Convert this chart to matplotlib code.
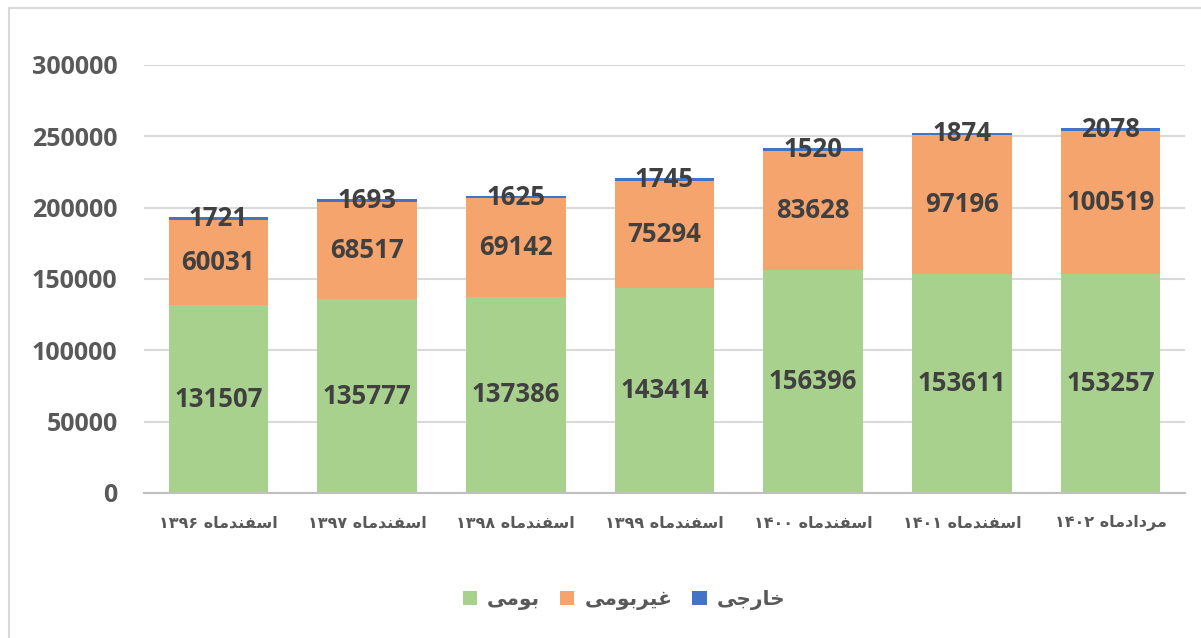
import matplotlib
matplotlib.use("Agg")
import matplotlib.pyplot as plt
from matplotlib.patches import Patch
from matplotlib.lines import Line2D
import numpy as np

# ---------------- data ----------------
categories = ['اسفندماه ۱۳۹۶', 'اسفندماه ۱۳۹۷', 'اسفندماه ۱۳۹۸', 'اسفندماه ۱۳۹۹',
              'اسفندماه ۱۴۰۰', 'اسفندماه ۱۴۰۱', 'مردادماه ۱۴۰۲']
series_names = ['بومی', 'غیربومی', 'خارجی']
native = [131507, 135777, 137386, 143414, 156396, 153611, 153257]
non_native = [60031, 68517, 69142, 75294, 83628, 97196, 100519]
foreign = [1721, 1693, 1625, 1745, 1520, 1874, 2078]
y_ticks = [0, 50000, 100000, 150000, 200000, 250000, 300000]

colors = ['#A9D18E', '#F4A46C', '#4472C4']

# ---------------- simple Arabic-script shaping for display ----------------
FORMS = {
    '\u0627': ('\uFE8D', '\uFE8E', None, None),
    '\u0628': ('\uFE8F', '\uFE90', '\uFE91', '\uFE92'),
    '\u062C': ('\uFE9D', '\uFE9E', '\uFE9F', '\uFEA0'),
    '\u062E': ('\uFEA5', '\uFEA6', '\uFEA7', '\uFEA8'),
    '\u062F': ('\uFEA9', '\uFEAA', None, None),
    '\u0631': ('\uFEAD', '\uFEAE', None, None),
    '\u0633': ('\uFEB1', '\uFEB2', '\uFEB3', '\uFEB4'),
    '\u063A': ('\uFECD', '\uFECE', '\uFECF', '\uFED0'),
    '\u0641': ('\uFED1', '\uFED2', '\uFED3', '\uFED4'),
    '\u0645': ('\uFEE1', '\uFEE2', '\uFEE3', '\uFEE4'),
    '\u0646': ('\uFEE5', '\uFEE6', '\uFEE7', '\uFEE8'),
    '\u0647': ('\uFEE9', '\uFEEA', '\uFEEB', '\uFEEC'),
    '\u0648': ('\uFEED', '\uFEEE', None, None),
    '\u06CC': ('\uFBFC', '\uFBFD', '\uFBFE', '\uFBFF'),
    '\u064A': ('\uFBFC', '\uFBFD', '\uFBFE', '\uFBFF'),
}


def shape_word(w):
    out = []
    for i, c in enumerate(w):
        if c not in FORMS:
            out.append(c)
            continue
        prev_j = i > 0 and w[i - 1] in FORMS and FORMS[w[i - 1]][2] is not None
        next_j = FORMS[c][2] is not None and i + 1 < len(w) and w[i + 1] in FORMS
        iso, fin, ini, med = FORMS[c]
        if prev_j and next_j:
            out.append(med)
        elif prev_j:
            out.append(fin)
        elif next_j:
            out.append(ini)
        else:
            out.append(iso)
    return ''.join(out)


def rtl(s):
    tokens = s.split(' ')
    vis = []
    for t in tokens:
        if any(ch in FORMS for ch in t):
            vis.append(shape_word(t)[::-1])
        else:
            vis.append(t)
    return ' '.join(vis[::-1])


# ---------------- figure ----------------
W, H = 1201, 638
fig = plt.figure(figsize=(W / 100, H / 100), dpi=100)
fig.patch.set_facecolor('white')

ax = fig.add_axes([144 / W, (H - 493) / H, (1185 - 144) / W, (493 - 65) / H])

x = np.arange(len(categories))
bw = 0.67
ax.bar(x, native, bw, color=colors[0], zorder=3)
ax.bar(x, non_native, bw, bottom=native, color=colors[1], zorder=3)
bottom3 = np.array(native) + np.array(non_native)
ax.bar(x, foreign, bw, bottom=bottom3, color=colors[2], zorder=3)

lab_kw = dict(ha='center', va='center', fontsize=18.5, fontweight='bold',
              color='#404040', family=['Open Sans', 'DejaVu Sans'], zorder=5)
for i in range(len(categories)):
    ax.text(x[i], native[i] / 2, f'{native[i]}', **lab_kw)
    ax.text(x[i], native[i] + non_native[i] / 2, f'{non_native[i]}', **lab_kw)
    ax.text(x[i], bottom3[i] + foreign[i] / 2, f'{foreign[i]}', **lab_kw)

ax.set_xlim(-0.5, len(categories) - 0.5)
ax.set_ylim(0, 300000)
ax.set_yticks(y_ticks)
ax.set_yticklabels([str(v) for v in y_ticks])
ax.set_xticks(x)
ax.set_xticklabels([rtl(c) for c in categories])

for lbl in ax.get_yticklabels():
    lbl.set_fontfamily(['Open Sans', 'DejaVu Sans'])
    lbl.set_fontsize(18)
    lbl.set_fontweight('bold')
    lbl.set_color('#595959')
for lbl in ax.get_xticklabels():
    lbl.set_fontfamily(['DejaVu Sans'])
    lbl.set_fontsize(11.5)
    lbl.set_fontweight('bold')
    lbl.set_color('#595959')

ax.tick_params(axis='y', length=0, pad=19)
ax.tick_params(axis='x', length=0, pad=16)
ax.yaxis.grid(True, color='#D9D9D9', linewidth=1.5, zorder=0)
ax.set_axisbelow(True)
for s in ['top', 'right', 'left']:
    ax.spines[s].set_visible(False)
ax.spines['bottom'].set_color('#BFBFBF')
ax.spines['bottom'].set_linewidth(1.5)
ax.spines['bottom'].set_zorder(4)

# legend
handles = [Patch(facecolor=c, edgecolor='none') for c in colors]
leg = fig.legend(handles, [rtl(n) for n in series_names], ncol=3, loc='center',
                 bbox_to_anchor=(624 / W, 1 - 600 / H), frameon=False,
                 handlelength=0.7, handleheight=0.7, handletextpad=0.5,
                 columnspacing=1.0,
                 prop=dict(family='DejaVu Sans', weight='bold', size=14.5))
for t in leg.get_texts():
    t.set_color('#595959')

# outer border (top and left)
fig.add_artist(Line2D([9 / W, 1], [1 - 8 / H, 1 - 8 / H], color='#D9D9D9', lw=1.5))
fig.add_artist(Line2D([9 / W, 9 / W], [0, 1 - 8 / H], color='#D9D9D9', lw=1.5))

fig.savefig('out.png', dpi=100, facecolor='white')
